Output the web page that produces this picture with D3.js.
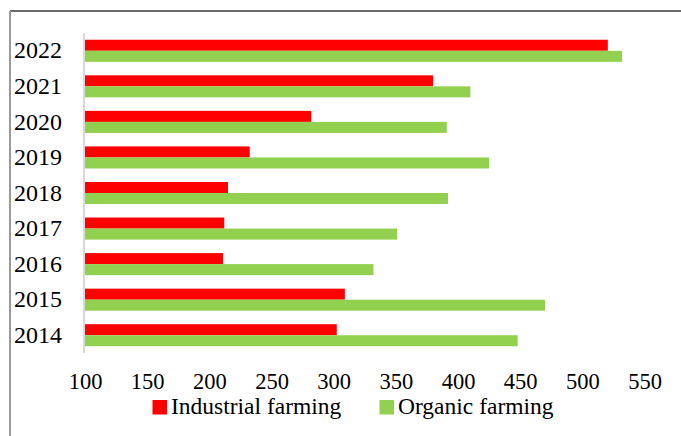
<!DOCTYPE html>
<html>
<head>
<meta charset="utf-8">
<script src="https://cdn.jsdelivr.net/npm/d3@7"></script>
<style>
body { margin: 0; background: #fff; }
svg text { font-family: "Liberation Serif", "Times New Roman", serif; fill: #000; }
</style>
</head>
<body>
<svg id="chart"></svg>
<script>
var years = ["2014","2015","2016","2017","2018","2019","2020","2021","2022"];
var industrial = [302.5, 309, 211, 212, 215, 232.5, 282, 380, 520.5];
var organic = [448, 470, 332, 351, 392, 425, 391, 410, 532];
var series = ["Industrial farming", "Organic farming"];
var colors = ["#FF0000", "#92D050"];
var xTicks = [100,150,200,250,300,350,400,450,500,550];

var width = 681;
var height = 436;
var svg = d3.select("#chart")
	.attr("width", width)
	.attr("height", height);

// frame (only top and left edges are visible)
svg.append("line")
	.attr("x1",10).attr("x2",width)
	.attr("y1",11).attr("y2",11)
	.attr("stroke","#3a3a3a")
	.attr("stroke-width",1.5);
svg.append("line")
	.attr("x1",10).attr("x2",10)
	.attr("y1",11).attr("y2",height)
	.attr("stroke","#9a9a9a")
	.attr("stroke-width",2);

var x = d3.scaleLinear()
	.domain([100, 550])
	.range([85, 644.5]);

var y = d3.scaleBand()
	.domain(years.slice().reverse())
	.range([33, 353])
	.paddingInner(0.38)
	.paddingOuter(0.19);

var ySub = d3.scaleBand()
	.domain(series)
	.range([0, y.bandwidth()]);

var rows = years.map(function(d,i){
	return {year: d, values: [industrial[i], organic[i]]};
});

var groups = svg.selectAll("g.row")
	.data(rows)
	.enter()
	.append("g")
	.attr("class","row")
	.attr("transform",function(d){ return "translate(0," + y(d.year) + ")"; });

groups.selectAll("rect")
	.data(function(d){ return d.values.map(function(v,j){ return {s: series[j], v: v, c: colors[j]}; }); })
	.enter()
	.append("rect")
	.attr("x", x(100))
	.attr("y", function(d){ return ySub(d.s); })
	.attr("width", function(d){ return x(d.v) - x(100); })
	.attr("height", ySub.bandwidth())
	.attr("fill", function(d){ return d.c; });

// vertical axis line
svg.append("line")
	.attr("x1",84).attr("x2",84)
	.attr("y1",33).attr("y2",353)
	.attr("stroke","#D9D9D9")
	.attr("stroke-width",2);

var axisY = d3.axisLeft(y).tickSize(0).tickPadding(22);
svg.append("g")
	.attr("transform","translate(84,0)")
	.call(axisY)
	.call(function(g){ g.select(".domain").remove(); })
	.selectAll("text")
	.attr("font-size","24px")
	.attr("fill","#000");

var axisX = d3.axisBottom(x).tickValues(xTicks).tickSize(0).tickPadding(4);
svg.append("g")
	.attr("transform","translate(0,369)")
	.call(axisX)
	.call(function(g){ g.select(".domain").remove(); })
	.selectAll("text")
	.attr("font-size","22.5px")
	.attr("fill","#000");

// legend
var legendX = [152.5, 379.5];
var legend = svg.selectAll("g.legend")
	.data(series)
	.enter()
	.append("g")
	.attr("class","legend")
	.attr("transform",function(d,i){ return "translate(" + legendX[i] + ",400)"; });
legend.append("rect")
	.attr("width",14.5)
	.attr("height",14.5)
	.attr("fill",function(d,i){ return colors[i]; });
legend.append("text")
	.attr("x",18.5)
	.attr("y",14)
	.attr("font-size","23.5px")
	.text(function(d){ return d; });
</script>
</body>
</html>
